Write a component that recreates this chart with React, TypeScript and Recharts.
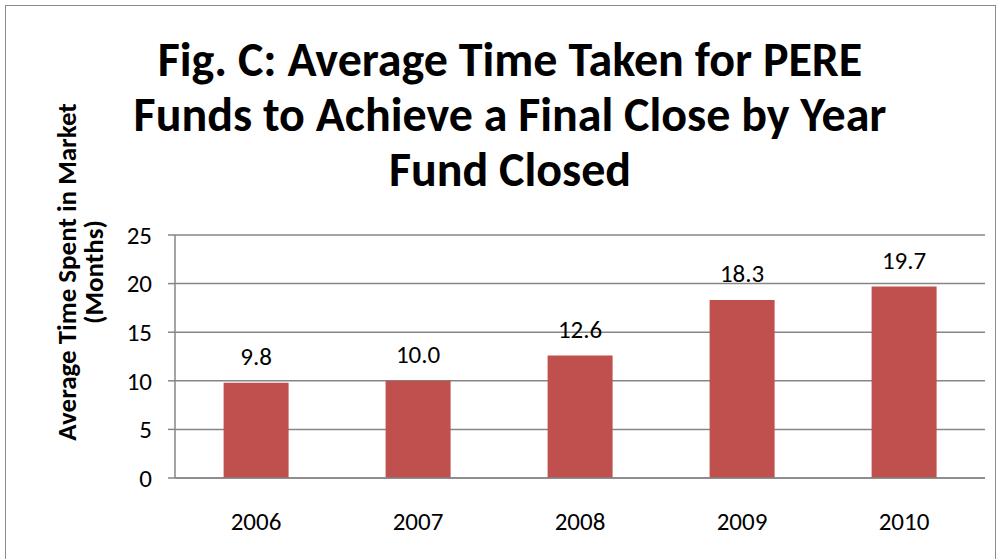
import React from 'react';
import { BarChart, Bar, XAxis, YAxis, CartesianGrid, LabelList } from 'recharts';

const years = ['2006', '2007', '2008', '2009', '2010'];
const months = [9.8, 10.0, 12.6, 18.3, 19.7];
const yTicks = [0, 5, 10, 15, 20, 25];
const boundaryTicks = [0, 1, 2, 3, 4, 5];

const titleLines = [
  'Fig. C: Average Time Taken for PERE',
  'Funds to Achieve a Final Close by Year',
  'Fund Closed',
];
const yLabelLines = ['Average Time Spent in Market', '(Months)'];

const data = years.map((year, i) => ({ year, value: months[i] }));

const FONT = 'Carlito, Lato, "Open Sans", sans-serif';
const GRID = '#868686';
const BAR = '#C0504D';
const TICK_SIZE = 25;

export default function App() {
  return (
    <div style={{ position: 'absolute', left: 0, top: 0, width: 1000, height: 559, background: '#fff', fontFamily: FONT, overflow: 'hidden' }}>
      {/* outer chart border */}
      <div style={{ position: 'absolute', left: 5, top: 5, width: 991, height: 560, border: '1.5px solid #8c8c8c', boxSizing: 'border-box' }} />

      {/* title */}
      <div style={{ position: 'absolute', left: 10, width: 1000, top: 32, textAlign: 'center', fontWeight: 700, fontSize: 48, lineHeight: '55px', color: '#000' }}>
        {titleLines.map((t) => (
          <div key={t}>{t}</div>
        ))}
      </div>

      {/* y axis label */}
      <div
        style={{
          position: 'absolute',
          left: 80,
          top: 272,
          width: 500,
          transform: 'translate(-50%, -50%) rotate(-90deg)',
          textAlign: 'center',
          fontWeight: 700,
          fontSize: 27,
          lineHeight: '27px',
          color: '#000',
          whiteSpace: 'nowrap',
        }}
      >
        {yLabelLines.map((t) => (
          <div key={t}>{t}</div>
        ))}
      </div>

      <div style={{ position: 'absolute', left: 0, top: 0 }}>
        <BarChart width={1000} height={559} data={data} margin={{ top: 235, right: 15, bottom: 0, left: 105 }} barCategoryGap="30%">
          <CartesianGrid vertical={false} stroke={GRID} strokeWidth={1.5} />
          <XAxis
            xAxisId="cat"
            dataKey="year"
            axisLine={{ stroke: GRID, strokeWidth: 1.5 }}
            tickLine={false}
            tickMargin={28}
            fontSize={TICK_SIZE}
            tick={{ fontSize: TICK_SIZE, fill: '#000', fontFamily: FONT }}
            height={81}
          />
          <XAxis
            xAxisId="bounds"
            type="number"
            domain={[0, 5]}
            ticks={boundaryTicks}
            tick={false}
            axisLine={false}
            tickLine={{ stroke: GRID, strokeWidth: 1.5 }}
            tickSize={9}
            height={0}
          />
          <YAxis
            domain={[0, 25]}
            ticks={yTicks}
            interval={0}
            width={70}
            axisLine={{ stroke: GRID, strokeWidth: 1.5 }}
            tickLine={{ stroke: GRID, strokeWidth: 1.5 }}
            tickSize={7}
            tickMargin={16}
            fontSize={TICK_SIZE}
            tick={{ fontSize: TICK_SIZE, fill: '#000', fontFamily: FONT }}
          />
          <Bar xAxisId="cat" dataKey="value" fill={BAR} isAnimationActive={false}>
            <LabelList
              dataKey="value"
              position="top"
              offset={18}
              fontSize={TICK_SIZE}
              formatter={(v: number) => v.toFixed(1)}
              style={{ fontSize: TICK_SIZE, fill: '#000', fontFamily: FONT }}
            />
          </Bar>
        </BarChart>
      </div>
    </div>
  );
}
